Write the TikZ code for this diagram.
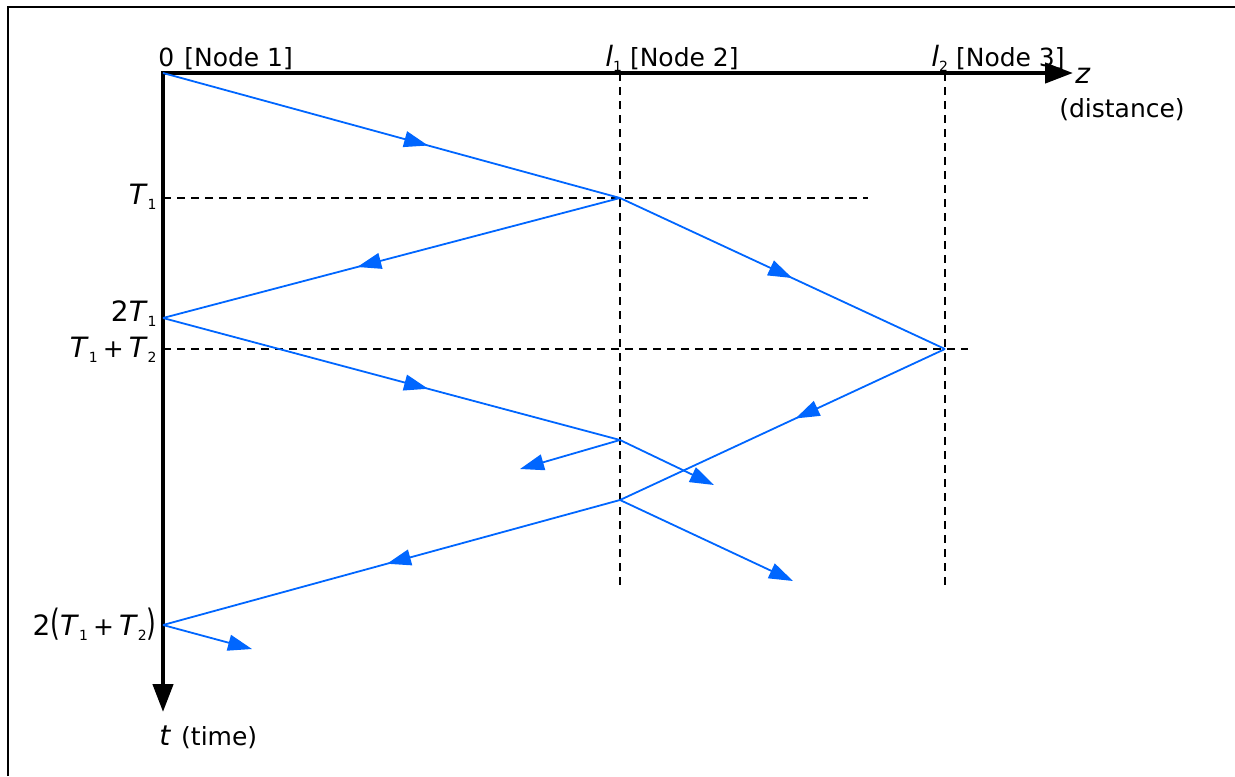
\documentclass[tikz,border=0pt]{standalone}
\usepackage{fontspec}
\setmainfont{DejaVu Sans}
\usepackage{xcolor}
\usetikzlibrary{arrows.meta, decorations.markings}

\definecolor{rayblue}{RGB}{0,102,255}
\newcommand{\varsub}[2]{{\fontsize{14}{16}\selectfont\textit{#1}}\raisebox{-2.5pt}{\fontsize{7}{8}\selectfont #2}}
\newcommand{\tallparen}[1]{\scalebox{1}[1.45]{#1}}
\newcommand{\varplus}{\hspace{2.5pt}+\hspace{2.5pt}}

\begin{document}
\begin{tikzpicture}[
				x=0.5pt, y=-0.5pt,
				axis/.style={line width=2.2pt, -{Triangle[length=14pt, width=10pt]}},
				guide/.style={dash pattern=on 4pt off 3pt, line width=0.9pt},
				ray/.style={draw=rayblue, line width=0.9pt},
				rayend/.style={ray, -{Triangle[length=12pt, width=8pt]}, rayblue},
				raymid/.style={ray, decoration={markings,
						mark=at position #1 with {\arrow[rayblue]{Triangle[length=12pt, width=8pt]}}},
					postaction={decorate}},
				lab/.style={font=\fontsize{12.5}{14}\selectfont, inner sep=1pt}
				]
				\useasboundingbox (0,0) rectangle (1235,776);
				
				% Marco
				\draw[line width=1.2pt] (8,776) -- (8,7) -- (1235,7);
				
				% Puntos
				\coordinate (n1) at (163,73);
				\coordinate (n2) at (620,73);
				\coordinate (n3) at (945,73);
				\coordinate (zend) at (1073,73);
				\coordinate (tend) at (163,712);
				\coordinate (p1) at (620,198);
				\coordinate (q1) at (163,318);
				\coordinate (r1) at (945,349);
				\coordinate (p2) at (620,440);
				\coordinate (p3) at (620,500);
				\coordinate (q2) at (163,625);
				\coordinate (tA) at (163,198);
				\coordinate (tAend) at (868,198);
				\coordinate (tB) at (163,349);
				\coordinate (tBend) at (968,349);
				\coordinate (n2end) at (620,590);
				\coordinate (n3end) at (945,590);
				\coordinate (e1) at (520,469);
				\coordinate (e2) at (714,485);
				\coordinate (e3) at (793,581);
				\coordinate (e4) at (252,649);
				
				% Guias
				\draw[guide] (tA) -- (tAend);
				\draw[guide] (tB) -- (tBend);
				\draw[guide] (n2) -- (n2end);
				\draw[guide] (n3) -- (n3end);
				
				% Ejes
				\draw[axis] ([xshift=-1pt]n1) -- (zend);
				\draw[axis] ([yshift=1pt]n1) -- (tend);
				
				% Rayos
				\path[raymid=0.58] (n1) -- (p1);
				\path[raymid=0.575] (p1) -- (q1);
				\path[raymid=0.53] (p1) -- (r1);
				\path[raymid=0.58] (q1) -- (p2);
				\path[raymid=0.46] (r1) -- (p3);
				\path[raymid=0.51] (p3) -- (q2);
				\draw[rayend] (p2) -- (e1);
				\draw[rayend] (p2) -- (e2);
				\draw[rayend] (p3) -- (e3);
				\draw[rayend] (q2) -- (e4);
				
				% Etiquetas
				\node[lab, anchor=base west] (lblA) at (156,66) {0\hspace{5pt}[Node 1]};
				\node[lab, anchor=base west] (lblB) at (603,66) {\varsub{l}{1} [Node 2]};
				\node[lab, anchor=base west] (lblC) at (929,66) {\varsub{l}{2} [Node 3]};
				\node[lab, anchor=west] (lblz) at (1073,76) {{\fontsize{14}{16}\selectfont\textit{z}}};
				\node[lab] (lbldist) at (1122,110) {(distance)};
				\node[lab, anchor=east] (lblT1) at (159,197) {\varsub{T}{1}};
				\node[lab, anchor=east] (lbl2T1) at (159,314) {{\fontsize{14}{16}\selectfont 2}\varsub{T}{1}};
				\node[lab, anchor=east] (lblT12) at (159,350) {\varsub{T}{1}\varplus\varsub{T}{2}};
				\node[lab, anchor=east] (lbl2T12) at (159,624) {{\fontsize{14}{16}\selectfont 2}\tallparen{(}\varsub{T}{1}\varplus\varsub{T}{2}\tallparen{)}};
				\node[lab, anchor=west] (lblt) at (157,737) {{\fontsize{14}{16}\selectfont\textit{t}}\hspace{5pt}(time)};
				
			\end{tikzpicture}
\end{document}
